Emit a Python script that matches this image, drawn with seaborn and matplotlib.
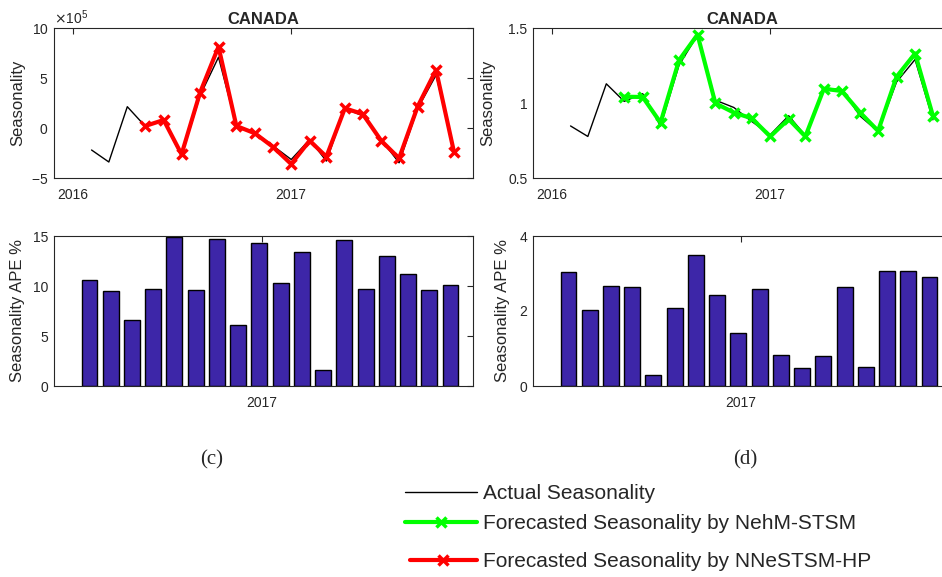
import numpy as np
import pandas as pd
import matplotlib
matplotlib.use("Agg")
import matplotlib.pyplot as plt
import seaborn as sns
from matplotlib.lines import Line2D
from matplotlib.ticker import FormatStrFormatter

sns.set_style("white")
plt.rcParams["font.family"] = ["Liberation Sans", "DejaVu Sans"]
plt.rcParams["axes.unicode_minus"] = False

# ---------------- data ----------------
months_actual = ["2016-02", "2016-03", "2016-04", "2016-05", "2016-06", "2016-07",
                 "2016-08", "2016-09", "2016-10", "2016-11", "2016-12", "2017-01",
                 "2017-02", "2017-03", "2017-04", "2017-05", "2017-06", "2017-07",
                 "2017-08", "2017-09", "2017-10"]
months_forecast = ["2016-05", "2016-06", "2016-07", "2016-08", "2016-09", "2016-10",
                   "2016-11", "2016-12", "2017-01", "2017-02", "2017-03", "2017-04",
                   "2017-05", "2017-06", "2017-07", "2017-08", "2017-09", "2017-10"]

# (c) additive seasonality, units of 1e5
actual_c = [-2.2, -3.4, 2.13, 0.18, 0.73, -2.8, 3.22, 7.08, 0.22, -0.46, -1.76,
            -3.15, -1.15, -3.31, 1.94, 1.22, -1.16, -3.48, 1.92, 5.29, -2.15]
forecast_nnestsm = [0.2, 0.8, -2.63, 3.53, 8.13, 0.2, -0.53, -1.87, -3.6, -1.27,
                    -2.87, 1.97, 1.4, -1.27, -3.03, 2.13, 5.8, -2.37]
ape_nnestsm = [10.63, 9.47, 6.6, 9.73, 14.87, 9.57, 14.73, 6.13, 14.33, 10.33,
               13.37, 1.63, 14.63, 9.73, 13.03, 11.2, 9.63, 10.13]

# (d) multiplicative seasonality
actual_d = [0.847, 0.777, 1.128, 1.011, 1.062, 0.846, 1.252, 1.452, 1.019, 0.970,
            0.877, 0.788, 0.915, 0.783, 1.100, 1.089, 0.912, 0.810, 1.140, 1.290, 0.888]
forecast_nehm = [1.042, 1.040, 0.869, 1.285, 1.456, 0.998, 0.936, 0.898, 0.777,
                 0.892, 0.777, 1.095, 1.080, 0.936, 0.814, 1.175, 1.330, 0.914]
ape_nehm = [3.04, 2.04, 2.68, 2.65, 0.29, 2.07, 3.50, 2.44, 1.42, 2.60, 0.82,
            0.48, 0.80, 2.65, 0.51, 3.07, 3.07, 2.92]

year_ticks = ["2016-01-01", "2017-01-01"]
year_labels = ["2016", "2017"]
title = "CANADA"
labels_legend = ["Actual Seasonality",
                 "Forecasted Seasonality by NehM-STSM",
                 "Forecasted Seasonality by NNeSTSM-HP"]

# ---------------- style ----------------
AXC = "#262626"
BAR = "#3D26A8"
GREEN = "#00FF00"
RED = "#FF0000"

W, H = 942, 577
fig = plt.figure(figsize=(W / 100, H / 100), dpi=100)


def px_axes(left, top, right, bottom):
    return fig.add_axes([left / W, 1 - bottom / H, (right - left) / W, (bottom - top) / H])


def style(ax, ylab, lab_x):
    for s in ax.spines.values():
        s.set_color(AXC)
        s.set_linewidth(0.8)
    ax.tick_params(direction="in", top=True, right=True, length=4, width=0.8,
                   colors=AXC, labelsize=10, pad=7)
    ax.tick_params(axis="y", pad=4)
    ax.set_ylabel(ylab, fontsize=12, color=AXC)
    ax.yaxis.set_label_coords(lab_x, 0.5)
    ax.set_xlabel("")


ax_tl = px_axes(54, 28, 473, 178)
ax_tr = px_axes(533, 28, 952, 178)
ax_bl = px_axes(54, 236, 473, 386)
ax_br = px_axes(533, 236, 952, 386)

xa = pd.to_datetime(months_actual)
xf = pd.to_datetime(months_forecast)

# top-left
sns.lineplot(x=xa, y=np.array(actual_c) * 1e5, ax=ax_tl, color="black", lw=1)
sns.lineplot(x=xf, y=np.array(forecast_nnestsm) * 1e5, ax=ax_tl, color=RED, lw=3,
             marker="x", markersize=7.5, markeredgewidth=2.5, markeredgecolor=RED)
ax_tl.set_ylim(-5e5, 10e5)
ax_tl.set_yticks([-5e5, 0, 5e5, 10e5])
ax_tl.ticklabel_format(axis="y", style="sci", scilimits=(5, 5), useMathText=True)
ax_tl.yaxis.get_offset_text().set_fontsize(10)
ax_tl.yaxis.get_offset_text().set_color(AXC)

# top-right
sns.lineplot(x=xa, y=actual_d, ax=ax_tr, color="black", lw=1)
sns.lineplot(x=xf, y=forecast_nehm, ax=ax_tr, color=GREEN, lw=3,
             marker="x", markersize=7.5, markeredgewidth=2.5, markeredgecolor=GREEN)
ax_tr.set_ylim(0.5, 1.5)
ax_tr.set_yticks([0.5, 1, 1.5])
ax_tr.yaxis.set_major_formatter(FormatStrFormatter("%g"))

for ax in (ax_tl, ax_tr):
    ax.set_xticks(pd.to_datetime(year_ticks))
    ax.set_xticklabels(year_labels)
    ax.set_xlim(pd.Timestamp("2015-11-30"), pd.Timestamp("2017-11-02"))
    ax.set_title(title, fontweight="bold", fontsize=12, pad=3)

style(ax_tl, "Seasonality", -0.069)
style(ax_tr, "Seasonality", -0.091)

# bottom bars
sns.barplot(x=months_forecast, y=ape_nnestsm, ax=ax_bl, color=BAR, saturation=1,
            edgecolor="black", linewidth=1, width=0.75)
sns.barplot(x=months_forecast, y=ape_nehm, ax=ax_br, color=BAR, saturation=1,
            edgecolor="black", linewidth=1, width=0.75)
ax_bl.set_ylim(0, 15)
ax_bl.set_yticks([0, 5, 10, 15])
ax_br.set_ylim(0, 4)
ax_br.set_yticks([0, 2, 4])
for ax in (ax_bl, ax_br):
    ax.set_xlim(-1.67, 18.06)
    ax.set_xticks([8.11])
    ax.set_xticklabels(["2017"])
style(ax_bl, "Seasonality APE %", -0.069)
style(ax_br, "Seasonality APE %", -0.055)

# panel letters
fig.text(212 / W, 1 - 460 / H, "(c)", family="Liberation Serif", fontsize=15,
         ha="center", va="center")
fig.text(745 / W, 1 - 460 / H, "(d)", family="Liberation Serif", fontsize=15,
         ha="center", va="center")

# legend
h1 = Line2D([], [], color="black", lw=1)
h2 = Line2D([], [], color=GREEN, lw=3, marker="x", ms=7, mew=2.5)
h3 = Line2D([], [], color=RED, lw=3, marker="x", ms=7, mew=2.5)
leg1 = fig.legend([h1, h2], labels_legend[:2], loc="center left",
                  bbox_to_anchor=(405 / W, 1 - 508.5 / H), frameon=False,
                  fontsize=15, handlelength=3.45, handletextpad=0.3,
                  labelspacing=0.52, borderpad=0, borderaxespad=0)
leg2 = fig.legend([h3], labels_legend[2:], loc="center left",
                  bbox_to_anchor=(410 / W, 1 - 561.3 / H), frameon=False,
                  fontsize=15, handlelength=3.2, handletextpad=0.3,
                  borderpad=0, borderaxespad=0)

fig.savefig("out.png", dpi=100)
